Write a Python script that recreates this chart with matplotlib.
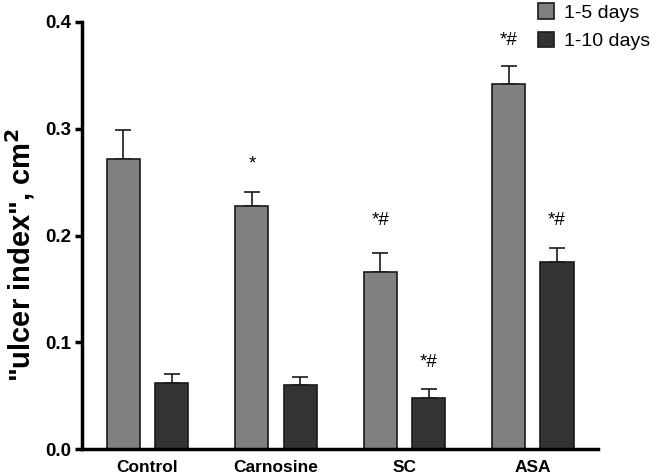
import numpy as np
import matplotlib
matplotlib.use('Agg')
import matplotlib.pyplot as plt

plt.rcParams['font.family'] = ['Liberation Sans', 'DejaVu Sans']

# Data
groups = ['Control', 'Carnosine', 'SC', 'ASA']
days_5 = [0.272, 0.228, 0.166, 0.342]
days_5_err = [0.027, 0.013, 0.018, 0.017]
days_10 = [0.062, 0.060, 0.048, 0.175]
days_10_err = [0.008, 0.007, 0.008, 0.013]
marks_5 = ['', '*', '*#', '*#']
marks_10 = ['', '', '*#', '*#']
mark_y_5 = [None, 0.267, 0.2145, 0.383]
mark_y_10 = [None, None, 0.0806, 0.2145]

fig = plt.figure(figsize=(6.58, 4.74), dpi=100)
ax = fig.add_axes([0.1246, 0.0527, 0.7842, 0.9009])

x = np.arange(len(groups))
w = 0.257
off = 0.187

ax.bar(x - off, days_5, w, color='#808080', edgecolor='#1a1a1a', linewidth=1.2,
       label='1-5 days', zorder=2)
ax.bar(x + off, days_10, w, color='#333333', edgecolor='#1a1a1a', linewidth=1.2,
       label='1-10 days', zorder=2)
ax.errorbar(x - off, days_5, yerr=[np.zeros(4), days_5_err], fmt='none',
            ecolor='#1a1a1a', elinewidth=1.2, capsize=6, capthick=1.2, zorder=1)
ax.errorbar(x + off, days_10, yerr=[np.zeros(4), days_10_err], fmt='none',
            ecolor='#1a1a1a', elinewidth=1.2, capsize=6, capthick=1.2, zorder=1)

# significance marks
for i in range(len(groups)):
    if marks_5[i]:
        ax.text(x[i] - off, mark_y_5[i], marks_5[i], ha='center', va='center', fontsize=13.5)
    if marks_10[i]:
        ax.text(x[i] + off, mark_y_10[i], marks_10[i], ha='center', va='center', fontsize=13.5)

ax.set_xlim(-0.51, 3.506)
ax.set_ylim(0, 0.4)
ax.set_yticks([0.0, 0.1, 0.2, 0.3, 0.4])
ax.set_yticklabels(['0.0', '0.1', '0.2', '0.3', '0.4'], fontweight='bold', fontsize=13.5)
ax.set_xticks(x)
ax.set_xticklabels(groups, fontweight='bold', fontsize=12.5)
ax.tick_params(axis='x', length=0, pad=8)
ax.tick_params(axis='y', length=5, width=2.5, direction='out', pad=3)

ax.spines['top'].set_visible(False)
ax.spines['right'].set_visible(False)
ax.spines['left'].set_linewidth(2.5)
ax.spines['bottom'].set_linewidth(2.5)

ax.set_ylabel('"ulcer index", cm$^\\mathbf{2}$', fontsize=21, fontweight='bold')
ax.yaxis.set_label_coords(-0.088, 0.455)

ax.legend(loc='upper left', bbox_to_anchor=(0.868, 1.062), frameon=False, fontsize=14,
          handlelength=0.85, handleheight=0.85, handletextpad=0.5, labelspacing=0.5,
          borderaxespad=0)

fig.savefig('out.png', dpi=100)
